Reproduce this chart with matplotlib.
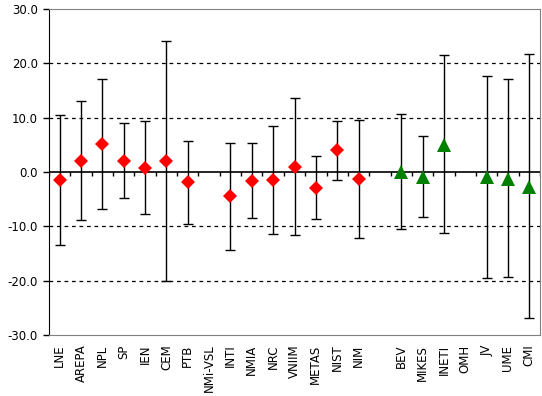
import numpy as np
import matplotlib
matplotlib.use("Agg")
import matplotlib.pyplot as plt

plt.rcParams['font.family'] = ['DejaVu Sans']
plt.rcParams['axes.unicode_minus'] = False

labs = ['LNE', 'AREPA', 'NPL', 'SP', 'IEN', 'CEM', 'PTB', 'NMi-VSL', 'INTI', 'NMIA',
        'NRC', 'VNIIM', 'METAS', 'NIST', 'NIM', '', 'BEV', 'MIKES', 'INETI', 'OMH',
        'JV', 'UME', 'CMI']

# group 1 (red diamonds): value, upper end, lower end
red_labs = ['LNE', 'AREPA', 'NPL', 'SP', 'IEN', 'CEM', 'PTB', 'INTI', 'NMIA',
            'NRC', 'VNIIM', 'METAS', 'NIST', 'NIM']
red_val = [-1.5, 2.0, 5.1, 2.0, 0.7, 2.0, -1.9, -4.5, -1.7, -1.5, 0.9, -3.0, 4.0, -1.3]
red_hi = [10.4, 13.1, 17.1, 9.0, 9.3, 24.1, 5.7, 5.3, 5.3, 8.4, 13.6, 2.9, 9.3, 9.5]
red_lo = [-13.4, -8.9, -6.9, -4.8, -7.8, -20.0, -9.6, -14.4, -8.5, -11.4, -11.6, -8.7, -1.5, -12.2]

# group 2 (green triangles)
grn_labs = ['BEV', 'MIKES', 'INETI', 'JV', 'UME', 'CMI']
grn_val = [0.0, -1.0, 4.9, -1.0, -1.3, -2.8]
grn_hi = [10.6, 6.6, 21.5, 17.7, 17.1, 21.7]
grn_lo = [-10.5, -8.3, -11.3, -19.6, -19.4, -26.8]

fig = plt.figure(figsize=(5.42, 3.96), dpi=100)
ax = fig.add_axes([49/542, 1-335/396, 491/542, 326/396])

def draw(names, val, hi, lo, marker, color, ms):
    x = np.array([labs.index(n) for n in names])
    val = np.array(val)
    err = [val - np.array(lo), np.array(hi) - val]
    ax.errorbar(x, val, yerr=err, fmt='none', ecolor='black', elinewidth=1,
                capsize=3.5, capthick=1, zorder=3)
    ax.plot(x, val, linestyle='none', marker=marker, color=color, ms=ms,
            markeredgewidth=0, zorder=4)

draw(red_labs, red_val, red_hi, red_lo, 'D', '#ff0000', 7.5)
draw(grn_labs, grn_val, grn_hi, grn_lo, '^', '#008000', 9.5)

n = len(labs)
ax.set_xlim(-0.5, n - 0.5)
ax.set_ylim(-30, 30)
ax.set_yticks(np.arange(-30, 31, 10))
ax.set_yticklabels(['%.1f' % v for v in np.arange(-30, 31, 10)], fontsize=8.5)
ax.set_xticks(np.arange(n))
ax.set_xticklabels(labs, rotation=90, fontsize=8.5)
ax.tick_params(axis='x', length=0, pad=7)
ax.tick_params(axis='y', length=4, width=1, direction='out', pad=4)

for v in [-20, -10, 10, 20]:
    ax.axhline(v, color='black', linestyle=(0, (3, 3)), linewidth=0.9, zorder=1)

# category axis on the zero line, with ticks between categories
ax.axhline(0, color='black', linewidth=1.2, zorder=2)
ax.vlines(np.arange(n + 1) - 0.5, -0.7, 0, color='black', linewidth=1, zorder=2)

ax.spines['left'].set_color('black')
for s in ['top', 'right', 'bottom']:
    ax.spines[s].set_color('#808080')

fig.savefig('out.png', dpi=100)
